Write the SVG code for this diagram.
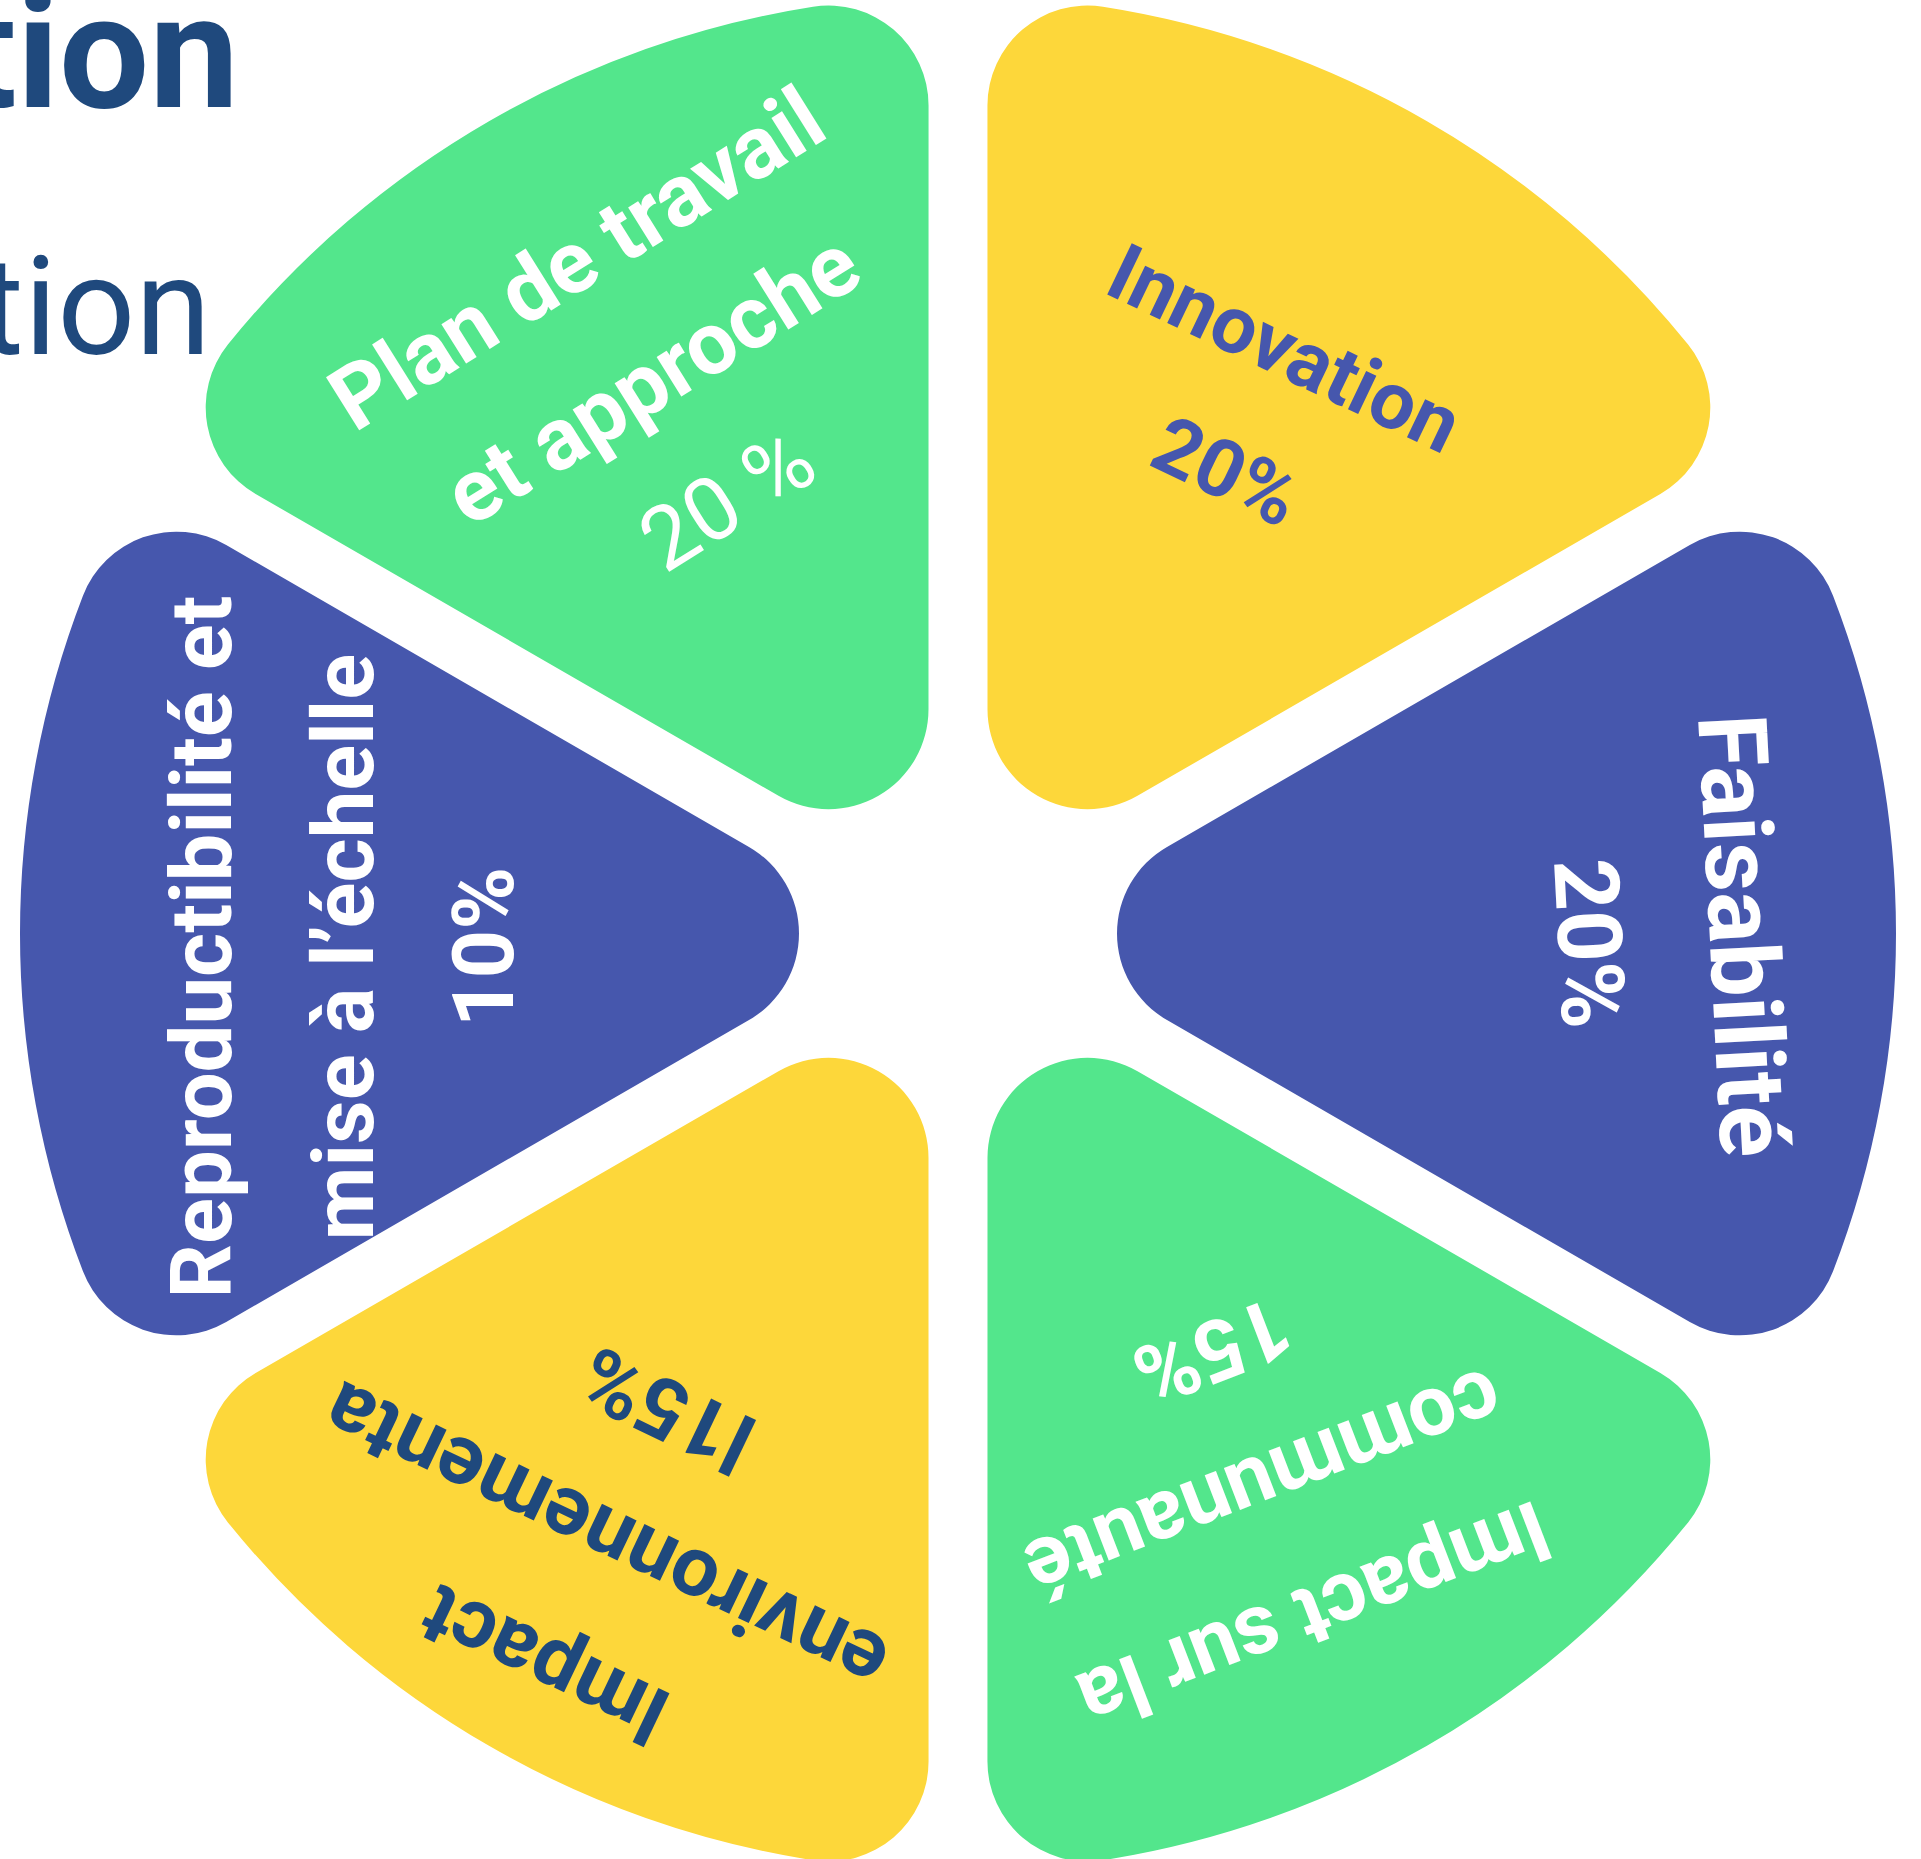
<svg xmlns="http://www.w3.org/2000/svg" xmlns:xlink="http://www.w3.org/1999/xlink" width="1921" height="1859" viewBox="0 0 1921 1859">
<style>
  text { font-family: Roboto, "Liberation Sans", sans-serif; text-anchor: middle; }
  .b { font-weight: 700; }
  .r { font-weight: 400; }
  .green { fill: #53E68C; }
  .yellow { fill: #FDD73A; }
  .blue { fill: #4657AD; }
  .w { fill: #FFFFFF; }
  .navy { fill: #1F497D; }
  .ib { fill: #4657AD; }
</style>
<defs>
  <path id="slice" d="M 209,-86.6 L 731.8,-388.5 A 100 100 0 0 1 875.05,-337.84 A 938 938 0 0 1 875.05,337.84 A 100 100 0 0 1 731.8,388.5 L 209,86.6 A 100 100 0 0 1 209,-86.6 Z"/>
</defs>
<rect width="1921" height="1859" fill="#FFFFFF"/>
<g id="title">
  <text class="b navy" x="239" y="107" font-size="160" style="text-anchor:end">tion</text>
  <text class="r navy" x="211" y="354" font-size="137" style="text-anchor:end">tion</text>
</g>
<g id="node-faisabilite">
  <use xlink:href="#slice" href="#slice" class="blue" transform="translate(958,933.5) rotate(0)"/>
  <text class="b w" transform="translate(1709.7,937.2) rotate(87)"><tspan x="0" y="0" font-size="96">Faisabilité</tspan><tspan x="0" y="151.5" font-size="90">20%</tspan></text>
</g>
<g id="node-innovation">
  <use xlink:href="#slice" href="#slice" class="yellow" transform="translate(958,933.5) rotate(-60)"/>
  <text class="b ib" font-size="80" transform="translate(1272.9,373.4) rotate(25.5)"><tspan x="0" y="0">Innovation</tspan><tspan x="0" y="136">20%</tspan></text>
</g>
<g id="node-plan">
  <use xlink:href="#slice" href="#slice" class="green" transform="translate(958,933.5) rotate(-120)"/>
  <text class="b w" font-size="88" transform="translate(592.7,284.5) rotate(-32)"><tspan x="0" y="0">Plan de travail</tspan><tspan x="0" y="142">et approche</tspan><tspan x="0" y="284" class="r">20 %</tspan></text>
</g>
<g id="node-reproductibilite">
  <use xlink:href="#slice" href="#slice" class="blue" transform="translate(958,933.5) rotate(180)"/>
  <text class="b w" font-size="85" transform="translate(230.9,947) rotate(-90)"><tspan x="0" y="0">Reproductibilité et</tspan><tspan x="0" y="142">mise à l’échelle</tspan><tspan x="0" y="282">10%</tspan></text>
</g>
<g id="node-impact-environnemental">
  <use xlink:href="#slice" href="#slice" class="yellow" transform="translate(958,933.5) rotate(120)"/>
  <text class="b navy" font-size="84" transform="translate(556.9,1639.7) rotate(205.5)"><tspan x="0" y="0">Impact</tspan><tspan x="0" y="142">environnementa</tspan><tspan x="0" y="284">l15%</tspan></text>
</g>
<g id="node-impact-communaute">
  <use xlink:href="#slice" href="#slice" class="green" transform="translate(958,933.5) rotate(60)"/>
  <text class="b w" font-size="85" transform="translate(1303.9,1588.3) rotate(159)"><tspan x="0" y="0">Impact sur la</tspan><tspan x="0" y="141">communauté</tspan><tspan x="0" y="283">15%</tspan></text>
</g>
<g id="connectors"/>
</svg>
